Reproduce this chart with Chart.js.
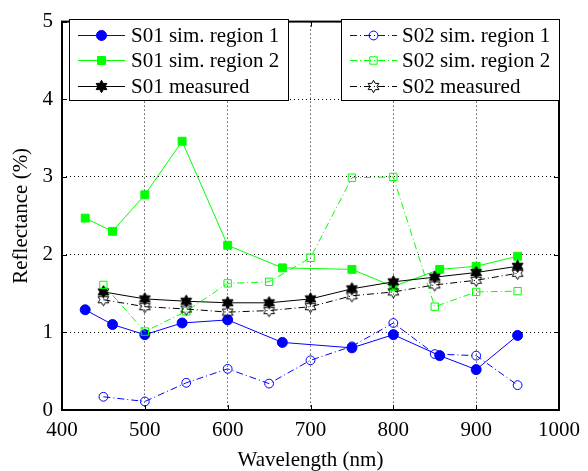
<!DOCTYPE html>
<html>
<head>
<meta charset="utf-8">
<script src="https://cdn.jsdelivr.net/npm/chart.js@4/dist/chart.umd.min.js"></script>
<style>
html,body{margin:0;padding:0;background:#fff;}
#wrap{width:588px;height:471px;}
</style>
</head>
<body>
<div id="wrap"><canvas id="c" width="588" height="471"></canvas></div>
<script>
// ---- data ----
const simX = [428, 461, 500, 545, 600, 666, 750, 800, 856, 900, 950];
const measX = [450, 500, 550, 600, 650, 700, 750, 800, 850, 900, 950];
const s01Sim1 = [1.29, 1.10, 0.97, 1.12, 1.16, 0.87, 0.80, 0.97, 0.70, 0.52, 0.96];
const s01Sim2 = [2.47, 2.30, 2.77, 3.46, 2.12, 1.83, 1.81, 1.59, 1.81, 1.85, 1.98];
const s01Meas = [1.52, 1.43, 1.40, 1.38, 1.38, 1.43, 1.56, 1.65, 1.71, 1.77, 1.85];
const s02Sim1 = [0.17, 0.11, 0.35, 0.53, 0.34, 0.64, 0.82, 1.12, 0.72, 0.70, 0.32];
const s02Sim2 = [1.61, 1.01, 1.27, 1.63, 1.65, 1.96, 2.99, 3.00, 1.33, 1.52, 1.53];
const s02Meas = [1.42, 1.33, 1.30, 1.26, 1.28, 1.33, 1.47, 1.52, 1.61, 1.67, 1.76];
const seriesNames = ['S01 sim. region 1', 'S01 sim. region 2', 'S01 measured',
                     'S02 sim. region 1', 'S02 sim. region 2', 'S02 measured'];
const xTitle = 'Wavelength (nm)';
const yTitle = 'Reflectance (%)';

const FONT = '"Liberation Serif", "Times New Roman", serif';
const FS = 21;
const BLUE = '#0000ff', GREEN = '#00ff00', BLACK = '#000000';
const DASHDOT = [7, 3, 1, 3];

function pts(xs, ys) { return xs.map((x, i) => ({x: x, y: ys[i]})); }

function hexPath(ctx, cx, cy, R) {
  const r = R / Math.sqrt(3);
  ctx.beginPath();
  for (let k = 0; k < 12; k++) {
    const a = -Math.PI / 2 + k * Math.PI / 6;
    const rr = (k % 2 === 0) ? R : r;
    const px = cx + rr * Math.cos(a), py = cy + rr * Math.sin(a);
    if (k === 0) ctx.moveTo(px, py); else ctx.lineTo(px, py);
  }
  ctx.closePath();
}
function makeHex(filled) {
  const c = document.createElement('canvas');
  c.width = 15; c.height = 15;
  const g = c.getContext('2d');
  hexPath(g, 7.5, 7.5, 6.2);
  if (filled) { g.fillStyle = '#000'; g.fill(); }
  g.strokeStyle = '#000'; g.lineWidth = 1; g.stroke();
  return c;
}
const hexFilled = makeHex(true);
const hexOpen = makeHex(false);

const styles = [
  {color: BLUE, dash: [], point: 'circle', r: 5, fill: BLUE},
  {color: GREEN, dash: [], point: 'rect', r: 5.6, fill: GREEN},
  {color: BLACK, dash: [], point: hexFilled, r: 6, fill: BLACK},
  {color: BLUE, dash: DASHDOT, point: 'circle', r: 4.4, fill: 'rgba(0,0,0,0)'},
  {color: GREEN, dash: DASHDOT, point: 'rect', r: 5.2, fill: 'rgba(0,0,0,0)'},
  {color: BLACK, dash: DASHDOT, point: hexOpen, r: 6, fill: 'rgba(0,0,0,0)'}
];
const allData = [pts(simX, s01Sim1), pts(simX, s01Sim2), pts(measX, s01Meas),
                 pts(measX, s02Sim1), pts(measX, s02Sim2), pts(measX, s02Meas)];

const datasets = allData.map((d, i) => ({
  label: seriesNames[i],
  data: d,
  borderColor: styles[i].color,
  borderWidth: 1,
  borderDash: styles[i].dash,
  pointStyle: styles[i].point,
  pointRadius: styles[i].r,
  pointBackgroundColor: styles[i].fill,
  pointBorderColor: styles[i].color,
  pointBorderWidth: 1,
  fill: false,
  tension: 0,
  order: 6 - i
}));

function drawLegendMarker(ctx, st, x, y) {
  ctx.save();
  ctx.setLineDash([]);
  ctx.lineWidth = 1;
  ctx.strokeStyle = st.color;
  ctx.fillStyle = st.fill;
  if (st.point === 'circle') {
    ctx.beginPath(); ctx.arc(x, y, st.r, 0, Math.PI * 2);
    ctx.fill(); ctx.stroke();
  } else if (st.point === 'rect') {
    const s = st.r * Math.SQRT1_2;
    ctx.beginPath(); ctx.rect(x - s, y - s, 2 * s, 2 * s);
    ctx.fill(); ctx.stroke();
  } else {
    ctx.drawImage(st.point, x - st.point.width / 2, y - st.point.height / 2);
  }
  ctx.restore();
}

const framePlugin = {
  id: 'frame',
  afterDatasetsDraw(chart) {
    const {ctx, chartArea: a, scales} = chart;
    ctx.save();
    // inward ticks
    ctx.strokeStyle = '#000'; ctx.lineWidth = 1; ctx.setLineDash([]);
    const TL = 5;
    scales.x.ticks.forEach(t => {
      const px = Math.round(scales.x.getPixelForValue(t.value)) + 0.5;
      ctx.beginPath();
      ctx.moveTo(px, a.bottom); ctx.lineTo(px, a.bottom - TL);
      ctx.moveTo(px, a.top); ctx.lineTo(px, a.top + TL);
      ctx.stroke();
    });
    scales.y.ticks.forEach(t => {
      const py = Math.round(scales.y.getPixelForValue(t.value)) + 0.5;
      ctx.beginPath();
      ctx.moveTo(a.left, py); ctx.lineTo(a.left + TL, py);
      ctx.moveTo(a.right, py); ctx.lineTo(a.right - TL, py);
      ctx.stroke();
    });
    // frame
    ctx.lineWidth = 2;
    ctx.strokeRect(a.left, a.top, a.right - a.left, a.bottom - a.top);

    // two legends
    const boxes = [
      {x0: 69, y0: 19, x1: 288, y1: 100, lx0: 78, lx1: 125, tx: 131, idx: [0, 1, 2]},
      {x0: 341, y0: 19, x1: 559, y1: 100, lx0: 350, lx1: 397, tx: 402, idx: [3, 4, 5]}
    ];
    const rows = [35, 60, 86];
    boxes.forEach(b => {
      ctx.fillStyle = '#fff';
      ctx.fillRect(b.x0, b.y0, b.x1 - b.x0, b.y1 - b.y0);
      ctx.lineWidth = 1; ctx.strokeStyle = '#000'; ctx.setLineDash([]);
      ctx.strokeRect(b.x0 + 0.5, b.y0 + 0.5, b.x1 - b.x0, b.y1 - b.y0);
      b.idx.forEach((si, r) => {
        const st = styles[si];
        const y = rows[r] + 0.5;
        ctx.strokeStyle = st.color; ctx.lineWidth = 1;
        ctx.setLineDash(st.dash);
        ctx.beginPath(); ctx.moveTo(b.lx0, y); ctx.lineTo(b.lx1, y); ctx.stroke();
        drawLegendMarker(ctx, st, (b.lx0 + b.lx1) / 2, y);
        ctx.setLineDash([]);
        ctx.fillStyle = '#000';
        ctx.font = FS + 'px ' + FONT;
        ctx.textBaseline = 'middle';
        ctx.textAlign = 'left';
        ctx.fillText(seriesNames[si], b.tx, rows[r] + 1);
      });
    });
    ctx.restore();
  }
};

new Chart(document.getElementById('c'), {
  type: 'line',
  data: {datasets: datasets},
  options: {
    responsive: false,
    devicePixelRatio: 1,
    animation: false,
    events: [],
    layout: {padding: {top: 12, right: 21, left: 0, bottom: 0}},
    plugins: {legend: {display: false}, tooltip: {enabled: false}},
    scales: {
      x: {
        type: 'linear', min: 400, max: 1000,
        ticks: {stepSize: 100, color: '#000', font: {family: FONT, size: FS}, padding: 8, maxRotation: 0,
                callback: v => String(v)},
        grid: {color: '#000', lineWidth: 1, drawTicks: false},
        border: {display: false, dash: [1, 3]},
        title: {display: true, text: xTitle, color: '#000', font: {family: FONT, size: FS, lineHeight: 1}, padding: 0},
        afterFit(s) { s.height = 61; }
      },
      y: {
        type: 'linear', min: 0, max: 5,
        ticks: {stepSize: 1, color: '#000', font: {family: FONT, size: FS}, padding: 9,
                callback: v => String(v)},
        grid: {color: '#000', lineWidth: 1, drawTicks: false},
        border: {display: false, dash: [1, 3]},
        title: {display: true, text: yTitle, color: '#000', font: {family: FONT, size: FS, lineHeight: 1}, padding: {top: 11, bottom: 0}},
        afterFit(s) { s.width = 62; }
      }
    }
  },
  plugins: [framePlugin]
});
</script>
</body>
</html>
